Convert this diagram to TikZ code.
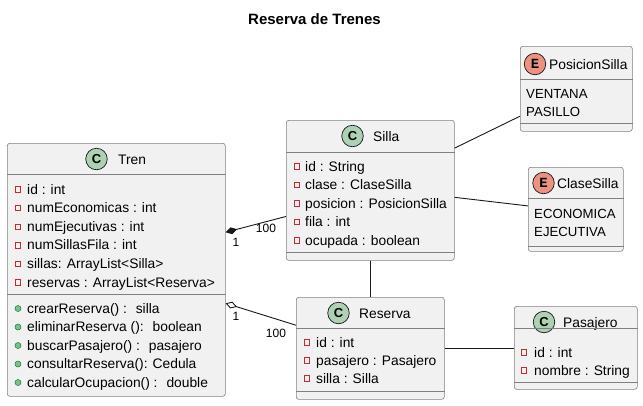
\documentclass[tikz,border=0pt]{standalone}
\usepackage{fontspec}
\setmainfont{Liberation Sans}
\newfontfamily\stereofont{Liberation Mono}
\usetikzlibrary{
  arrows.meta, % for the Diamond tips of the associations
  calc, % to pick points along the sides of the boxes
}
\definecolor{boxfill}{HTML}{F1F1F1}
\definecolor{boxline}{HTML}{181818}
\definecolor{classgreen}{HTML}{ADD1B2}
\definecolor{enumred}{HTML}{EB937F}
\definecolor{privred}{HTML}{C82930}
\definecolor{pubgreen}{HTML}{84BE84}
\definecolor{pubdark}{HTML}{038048}
\tikzset{
  classbox/.style={ % style for each class or enum box
    rectangle,draw=boxline!55,line width=0.6pt, % thin grey outline
    fill=boxfill, % light grey body
    rounded corners=2.5pt, % slightly rounded corners
    anchor=north west, % placed by the top left corner
    inner sep=0pt,
  },
  sep/.style={ % lines between the compartments
    draw=boxline!55,line width=0.6pt,
  },
  badge/.style={ % the C / E circle in the header
    circle,draw=boxline,line width=0.7pt,
    minimum size=21.5pt,inner sep=0pt,
    font=\bfseries\fontsize{13}{13}\selectfont,
  },
  ebadge/.style={ % enum variant of the badge
    badge,fill=enumred,
    font=\stereofont\bfseries\fontsize{14}{14}\selectfont,
  },
  cname/.style={anchor=base west,inner sep=0pt}, % class names
  member/.style={anchor=base west,inner sep=0pt}, % attributes and methods
  literal/.style={member,font=\fontsize{13.2}{16}\selectfont}, % enum values
  privicon/.style={ % private member marker
    rectangle,draw=privred,line width=0.8pt,
    minimum size=5.5pt,inner sep=0pt,
  },
  pubicon/.style={ % public member marker
    circle,fill=pubgreen,draw=pubdark,line width=0.5pt,
    minimum size=6pt,inner sep=0pt,
  },
  conn/.style={draw=boxline,line width=0.9pt}, % associations
  mult/.style={font=\fontsize{12}{12}\selectfont,inner sep=0pt}, % multiplicities
}
\begin{document}
\begin{tikzpicture}[x=1pt,y=-1pt,font=\fontsize{13.8}{16}\selectfont]
\useasboundingbox (0,0) rectangle (643,405);

\node[font=\bfseries\fontsize{15}{18}\selectfont] (title) at (314.5,19) {Reserva de Trenes};

% Tren
\node[classbox,minimum width=218,minimum height=253] (tren) at (7,143) {};
\node[badge,fill=classgreen] (tren-c) at (96.5,159) {C};
\node[cname] (tren-n) at (118,164) {Tren};
\draw[sep] (tren.west |- 0,174) -- (tren.east |- 0,174);
\draw[sep] (tren.west |- 0,294) -- (tren.east |- 0,294);
\foreach \txt [count=\i] in {id : int, numEconomicas : int, numEjecutivas : int,
    numSillasFila : int, sillas: ArrayList<Silla>, reservas : ArrayList<Reserva>}{
  \node[privicon] (tren-v\i) at (18,{189.5+18.6*(\i-1)}) {};
  \node[member] (tren-a\i) at (27,{194+18.6*(\i-1)}) {\txt};
}
\foreach \txt [count=\i] in {crearReserva() :~ silla, eliminarReserva ():~ boolean,
    buscarPasajero() :~ pasajero, consultarReserva(): Cedula,
    calcularOcupacion() :~ double}{
  \node[pubicon] (tren-w\i) at (18,{308.5+18.5*(\i-1)}) {};
  \node[member] (tren-m\i) at (27,{313+18.5*(\i-1)}) {\txt};
}

% Silla
\node[classbox,minimum width=168,minimum height=140] (silla) at (286,120) {};
\node[badge,fill=classgreen] (silla-c) at (352.5,136) {C};
\node[cname] (silla-n) at (373,141) {Silla};
\draw[sep] (silla.west |- 0,152) -- (silla.east |- 0,152);
\draw[sep] (silla.west |- 0,252) -- (silla.east |- 0,252);
\foreach \txt [count=\i] in {id : String, clase : ClaseSilla,
    posicion : PosicionSilla, fila : int, ocupada : boolean}{
  \node[privicon] (silla-v\i) at (297,{166.5+18.5*(\i-1)}) {};
  \node[member] (silla-a\i) at (305,{171+18.5*(\i-1)}) {\txt};
}

% Reserva
\node[classbox,minimum width=148,minimum height=102] (reserva) at (296,297) {};
\node[badge,fill=classgreen] (reserva-c) at (338.5,313) {C};
\node[cname] (reserva-n) at (359,318) {Reserva};
\draw[sep] (reserva.west |- 0,328) -- (reserva.east |- 0,328);
\draw[sep] (reserva.west |- 0,391) -- (reserva.east |- 0,391);
\foreach \txt [count=\i] in {id : int, pasajero : Pasajero, silla : Silla}{
  \node[privicon] (reserva-v\i) at (307,{342.5+18*(\i-1)}) {};
  \node[member] (reserva-a\i) at (316,{347+18*(\i-1)}) {\txt};
}

% Pasajero
\node[classbox,minimum width=123,minimum height=83] (pasajero) at (514,306) {};
\node[badge,fill=classgreen] (pasajero-c) at (544,322) {C};
\node[cname] (pasajero-n) at (563,327) {Pasajero};
\draw[sep] (pasajero.west |- 0,328) -- (pasajero.east |- 0,328);
\draw[sep] (pasajero.west |- 0,382) -- (pasajero.east |- 0,382);
\foreach \txt [count=\i] in {id : int, nombre : String}{
  \node[privicon] (pasajero-v\i) at (524,{352.5+18*(\i-1)}) {};
  \node[member] (pasajero-a\i) at (534,{357+18*(\i-1)}) {\txt};
}

% PosicionSilla
\node[classbox,minimum width=112,minimum height=85] (posicion) at (520,46) {};
\node[ebadge] (posicion-e) at (535,64) {E};
\node[cname] (posicion-n) at (549,69) {PosicionSilla};
\draw[sep] (posicion.west |- 0,79) -- (posicion.east |- 0,79);
\draw[sep] (posicion.west |- 0,123) -- (posicion.east |- 0,123);
\node[literal] (posicion-a1) at (526,98) {VENTANA};
\node[literal] (posicion-a2) at (526,116) {PASILLO};

% ClaseSilla
\node[classbox,minimum width=95,minimum height=84] (clase) at (528,167) {};
\node[ebadge] (clase-e) at (543.5,183) {E};
\node[cname] (clase-n) at (557,188) {ClaseSilla};
\draw[sep] (clase.west |- 0,198) -- (clase.east |- 0,198);
\draw[sep] (clase.west |- 0,246) -- (clase.east |- 0,246);
\node[literal] (clase-a1) at (534,218) {ECONOMICA};
\node[literal] (clase-a2) at (534,236) {EJECUTIVA};

% associations
\draw[conn,{Diamond[length=12pt,width=7pt]}-]
  ($(tren.north east)!0.352!(tren.south east)$) -- ($(silla.north west)!0.686!(silla.south west)$);
\node[mult] (comp-a) at (236,242) {1};
\node[mult] (comp-b) at (266,228) {100};
\draw[conn,{Diamond[open,length=12pt,width=7pt]}-]
  ($(tren.north east)!0.632!(tren.south east)$) -- ($(reserva.north west)!0.275!(reserva.south west)$);
\node[mult] (agg-a) at (236,316) {1};
\node[mult] (agg-b) at (276,333) {100};
\draw[conn] ($(silla.north east)!0.2!(silla.south east)$) -- ($(posicion.north west)!0.82!(posicion.south west)$);
\draw[conn] ($(silla.north east)!0.55!(silla.south east)$) -- ($(clase.north west)!0.46!(clase.south west)$);
\draw[conn] (silla.south) -- (reserva.north);
\draw[conn] (reserva.east) -- (reserva.east -| pasajero.west);
\end{tikzpicture}
\end{document}
